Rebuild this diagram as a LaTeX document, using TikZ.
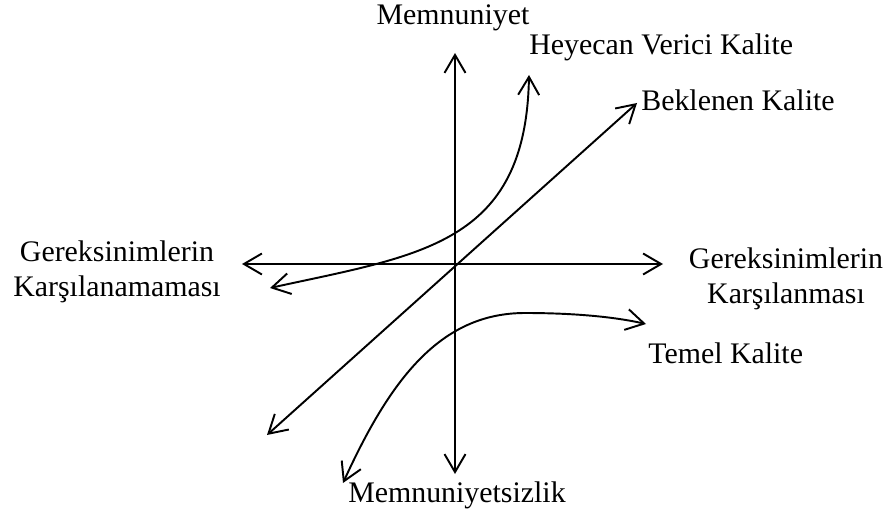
\documentclass[tikz,border=0pt]{standalone}
\usepackage{fontspec}
\setmainfont{Liberation Serif}
\usetikzlibrary{arrows.meta}

\tikzset{
 barb/.tip={Straight Barb[length=3.6mm,width=4.2mm]},
 kano/.style={barb-barb, line width=1.1pt},
 lbl/.style={inner sep=0pt, align=center}
}

\begin{document}
\begin{tikzpicture}[x=0.02cm, y=-0.02cm, font=\fontsize{17}{20}\selectfont]
 \useasboundingbox (0,0) rectangle (886,513);
 % axis ends
 \coordinate (top) at (455,53);
 \coordinate (bottom) at (455,474);
 \coordinate (left) at (242,264);
 \coordinate (right) at (663,264);
 % curve ends
 \coordinate (beklA) at (267,435);
 \coordinate (beklB) at (637,103);
 \coordinate (heyA) at (270,288);
 \coordinate (heyB) at (529,75);
 \coordinate (temA) at (343,483);
 \coordinate (temB) at (646,324);

 \node[lbl] (memn) at (453,18) {Memnuniyet};
 \node[lbl, anchor=west] (hey) at (529,47) {Heyecan Verici Kalite};
 \node[lbl, anchor=west] (bekl) at (641,100) {Beklenen Kalite};
 \node[lbl] (karsiz) at (117,272) {Gereksinimlerin\\Karşılanamaması};
 \node[lbl] (kars) at (786,279) {Gereksinimlerin\\Karşılanması};
 \node[lbl, anchor=west] (temel) at (648,353) {Temel Kalite};
 \node[lbl] (memnsiz) at (457,495) {Memnuniyetsizlik};

 \draw[kano] (bottom) -- (top);
 \draw[kano] (left) -- (right);
 \draw[kano] (beklA) -- (beklB);
 \draw[kano] (heyA) .. controls (420,255) and (526,245) .. (heyB);
 \draw[kano] (temA) .. controls (390,380) and (440,313) .. (525,313)
   .. controls (575,313) and (615,317) .. (temB);
\end{tikzpicture}
\end{document}
